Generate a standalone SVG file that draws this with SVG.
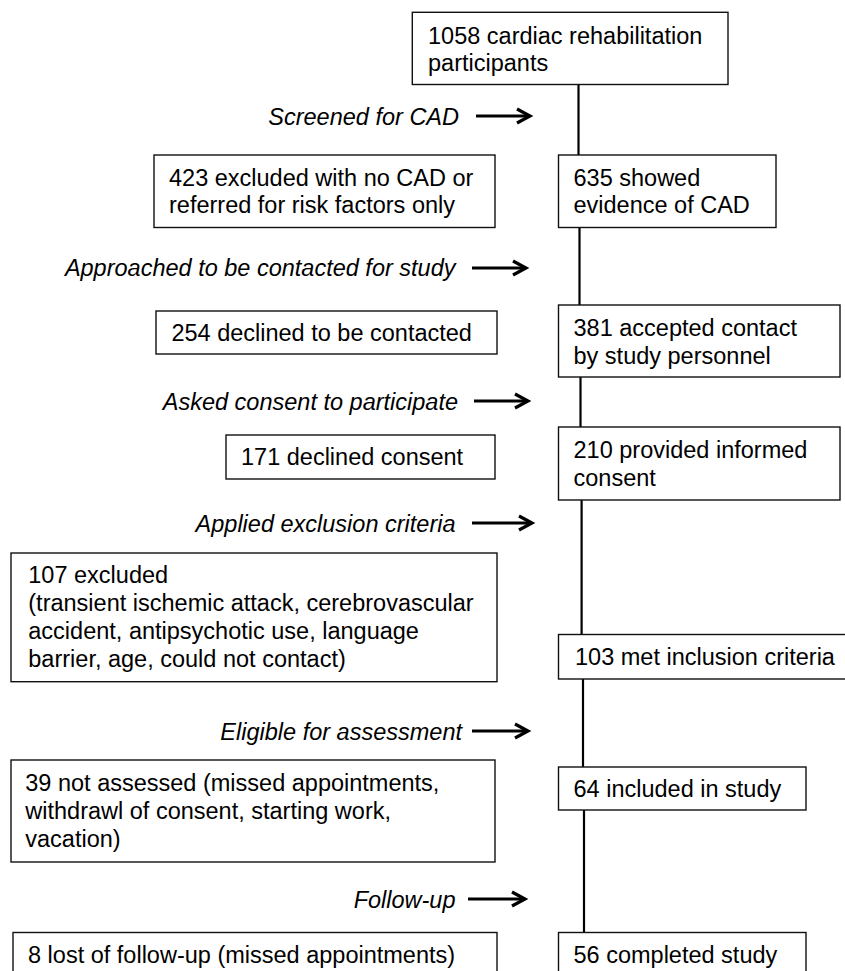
<svg xmlns="http://www.w3.org/2000/svg" width="845" height="971" viewBox="0 0 845 971">
<style>
  .box { fill: #fff; stroke: #111; stroke-width: 1.4; }
  .t { font-family: "Liberation Sans", Arial, Helvetica, sans-serif; font-size: 23.5px; fill: #000; }
  .lbl { font-family: "Liberation Sans", Arial, Helvetica, sans-serif; font-size: 23.5px; font-style: italic; fill: #000; text-anchor: end; }
  .conn { stroke: #000; stroke-width: 2.2; fill: none; }
  .arr { stroke: #000; stroke-width: 3.2; fill: none; }
</style>
<defs>
  <marker id="ah" markerUnits="userSpaceOnUse" markerWidth="20" markerHeight="20" refX="16" refY="9" orient="auto">
    <path d="M3,2 L16,9 L3,16" fill="none" stroke="#000" stroke-width="3.2"/>
  </marker>
</defs>

<g id="connectors">
  <line class="conn" x1="578.5" y1="85" x2="578.5" y2="155"/>
  <line class="conn" x1="579.5" y1="228" x2="579.5" y2="305"/>
  <line class="conn" x1="580.5" y1="377" x2="580.5" y2="427"/>
  <line class="conn" x1="581.6" y1="500" x2="581.6" y2="635"/>
  <line class="conn" x1="583" y1="679" x2="583" y2="767"/>
  <line class="conn" x1="584" y1="810" x2="584" y2="933"/>
  <line class="arr" x1="476" y1="116" x2="530" y2="116" marker-end="url(#ah)"/>
  <line class="arr" x1="472" y1="268" x2="526" y2="268" marker-end="url(#ah)"/>
  <line class="arr" x1="474" y1="401" x2="528" y2="401" marker-end="url(#ah)"/>
  <line class="arr" x1="472" y1="523" x2="532" y2="523" marker-end="url(#ah)"/>
  <line class="arr" x1="472" y1="731" x2="528" y2="731" marker-end="url(#ah)"/>
  <line class="arr" x1="468" y1="899" x2="525" y2="899" marker-end="url(#ah)"/>
</g>

<g id="labels">
  <text class="lbl" x="459" y="124.5">Screened for CAD</text>
  <text class="lbl" x="455.5" y="276">Approached to be contacted for study</text>
  <text class="lbl" x="458" y="409.5">Asked consent to participate</text>
  <text class="lbl" x="455.5" y="531.5">Applied exclusion criteria</text>
  <text class="lbl" x="462" y="739.5">Eligible for assessment</text>
  <text class="lbl" x="455.5" y="907.5">Follow-up</text>
</g>

<g id="n1058">
  <rect class="box" x="412.3" y="12.3" width="315.7" height="72.2"/>
  <text class="t" x="428" y="43.5">1058 cardiac rehabilitation</text>
  <text class="t" x="428" y="71">participants</text>
</g>

<g id="n423">
  <rect class="box" x="154" y="155" width="341" height="72.5"/>
  <text class="t" x="169" y="186">423 excluded with no CAD or</text>
  <text class="t" x="169" y="213">referred for risk factors only</text>
</g>

<g id="n635">
  <rect class="box" x="558.5" y="155" width="217.5" height="72.5"/>
  <text class="t" x="573.5" y="186">635 showed</text>
  <text class="t" x="573.5" y="213">evidence of CAD</text>
</g>

<g id="n254">
  <rect class="box" x="156" y="311" width="341" height="43"/>
  <text class="t" x="171.4" y="341">254 declined to be contacted</text>
</g>

<g id="n381">
  <rect class="box" x="558.5" y="305" width="281.5" height="72"/>
  <text class="t" x="573.5" y="336">381 accepted contact</text>
  <text class="t" x="573.5" y="363.5">by study personnel</text>
</g>

<g id="n171">
  <rect class="box" x="226" y="435" width="269" height="44"/>
  <text class="t" x="241" y="465">171 declined consent</text>
</g>

<g id="n210">
  <rect class="box" x="558.5" y="427" width="281.5" height="73"/>
  <text class="t" x="573.5" y="458">210 provided informed</text>
  <text class="t" x="573.5" y="485.5">consent</text>
</g>

<g id="n107">
  <rect class="box" x="11" y="553" width="486" height="128.7"/>
  <text class="t" x="28.3" y="582.5">107 excluded</text>
  <text class="t" x="28.3" y="610.5">(transient ischemic attack, cerebrovascular</text>
  <text class="t" x="28.3" y="638.5">accident, antipsychotic use, language</text>
  <text class="t" x="28.3" y="666.5">barrier, age, could not contact)</text>
</g>

<g id="n103">
  <rect class="box" x="558.5" y="634.5" width="292" height="44.5"/>
  <text class="t" x="575" y="665">103 met inclusion criteria</text>
</g>

<g id="n39">
  <rect class="box" x="11" y="760" width="484" height="102"/>
  <text class="t" x="25.3" y="791">39 not assessed (missed appointments,</text>
  <text class="t" x="25.3" y="819">withdrawl of consent, starting work,</text>
  <text class="t" x="25.3" y="847">vacation)</text>
</g>

<g id="n64">
  <rect class="box" x="558.5" y="767" width="247.5" height="43"/>
  <text class="t" x="573.5" y="797">64 included in study</text>
</g>

<g id="n8">
  <rect class="box" x="13" y="932.5" width="484" height="50"/>
  <text class="t" x="28" y="963">8 lost of follow-up (missed appointments)</text>
</g>

<g id="n56">
  <rect class="box" x="558.5" y="932.5" width="247.5" height="50"/>
  <text class="t" x="573.5" y="963">56 completed study</text>
</g>
</svg>
